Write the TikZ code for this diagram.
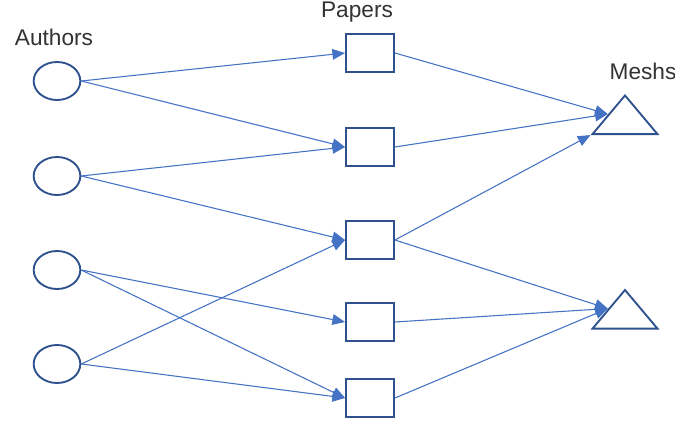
\documentclass[tikz,border=0pt]{standalone}
\usepackage{fontspec}
\setmainfont{Liberation Sans}
\usetikzlibrary{shapes.geometric,arrows.meta}
\definecolor{edgeblue}{HTML}{4472C4}
\definecolor{shapeblue}{HTML}{2F528F}

\begin{document}
\begin{tikzpicture}[x=0.75pt,y=-0.75pt,
author/.style={ellipse,draw=shapeblue,line width=1.4pt,minimum width=35pt,minimum height=28.5pt,inner sep=0pt},
paper/.style={rectangle,draw=shapeblue,line width=1.4pt,minimum width=36pt,minimum height=28.5pt,inner sep=0pt},
mesh/.style={isosceles triangle,isosceles triangle stretches,shape border rotate=90,draw=shapeblue,line width=1.4pt,minimum width=48.75pt,minimum height=29pt,inner sep=0pt},
edge/.style={draw=edgeblue,line width=0.8pt,-{Triangle[length=9.5pt,width=8pt]}}]
\tikzstyle{label}=[font=\fontsize{17}{20}\selectfont,text=black!80]
    \path[fill=white,use as bounding box] (0,0) rectangle (675,425);
    \foreach \i/\y in {1/81,2/176,3/270,4/364}
        \node[author] (a\i) at (57,\y) {};
    \foreach \i/\y in {1/53,2/147,3/240,4/322,5/398}
        \node[paper] (p\i) at (370,\y) {};
    \node[mesh] (m1) at (625,119) {};
    \node[mesh] (m2) at (625,313.5) {};
   % Authors write papers
    \foreach \a/\p in {1/1,1/2,2/2,2/3,3/4,3/5,4/3,4/5}
        \draw[edge] (a\a.east) -- (p\p.west);
   % Papers carry meshs
    \foreach \p/\m in {1/1,2/1,3/2,4/2,5/2}
        \draw[edge] (p\p.east) -- (m\m.left side);
    \draw[edge] (p3.east) -- (m1.left corner);
   % Titles over each column
    \node[label] (authors) at (54,37) {Authors};
    \node[label] (papers) at (357,12) {Papers};
    \node[label] (meshs) at (643,71) {Meshs};
\end{tikzpicture}
\end{document}
